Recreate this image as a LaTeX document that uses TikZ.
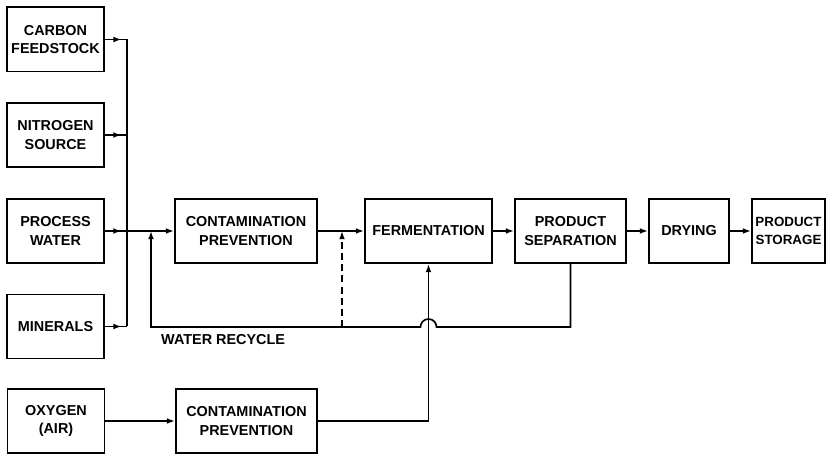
\documentclass[tikz,border=0pt]{standalone}
\usepackage{fontspec}
\setmainfont{Liberation Sans}
\usepackage{tikz}
\usetikzlibrary{arrows.meta}
\tikzset{>={Latex[length=7pt,width=5pt]}}
\usetikzlibrary{decorations.markings}

\tikzset{
  unit/.style={draw, line width=1.7pt, align=center, inner sep=0.5pt,
    minimum height=1.92cm, font=\bfseries\fontsize{12.3}{15.5}\selectfont},
  flow/.style={line width=1.4pt},
  feed/.style={flow, postaction={decorate},
    decoration={markings, mark=at position 0.75 with {\arrow{Latex[length=7pt,width=5pt]}}}},
  tag/.style={font=\bfseries\fontsize{12.3}{15.5}\selectfont, inner sep=0pt}
}

\begin{document}
\begin{tikzpicture}[x=0.03cm,y=-0.03cm]
		\useasboundingbox (0,0) rectangle (832,455);

		% Raw materials on the left
		\node [unit, minimum width=2.91cm] (carbon)   at (55.5,39.5)  {CARBON\\FEEDSTOCK};
		\node [unit, minimum width=2.91cm] (nitrogen) at (55.5,135)   {NITROGEN\\SOURCE};
		\node [unit, minimum width=2.91cm] (water)    at (55.5,231)   {PROCESS\\WATER};
		\node [unit, minimum width=2.91cm] (minerals) at (55.5,326.5) {MINERALS};
		\node [unit, minimum width=2.91cm] (oxygen)   at (56,421)     {OXYGEN\\(AIR)};

		% Main process line
		\node [unit, minimum width=4.26cm] (contam)   at (246,231)    {CONTAMINATION\\PREVENTION};
		\node [unit, minimum width=3.81cm] (ferment)  at (428.5,231)  {FERMENTATION};
		\node [unit, minimum width=3.33cm] (sep)      at (570.5,231)  {PRODUCT\\SEPARATION};
		\node [unit, minimum width=2.4cm]  (drying)   at (689,231)    {DRYING};
		\node [unit, minimum width=2.19cm, font=\bfseries\fontsize{11.4}{15.5}\selectfont]
		      (storage) at (788.5,231) {PRODUCT\\STORAGE};
		\node [unit, minimum width=4.23cm] (aircont)  at (246.5,421)  {CONTAMINATION\\PREVENTION};

		\node [tag, anchor=west] (recycle) at (161,340) {WATER RECYCLE};

		% Collecting bus for the feeds
		\coordinate (bus)    at (127,0);
		\coordinate (rejoin) at (151,231);
		\coordinate (bypass) at (342,231);
		\coordinate (hump)   at (428.5,327);

		\foreach \src in {carbon,nitrogen,water,minerals} {
		  \draw [feed] (\src.east) -- (\src.east -| bus);
		}
		\draw [flow] (carbon.east -| bus) -- (minerals.east -| bus);

		\draw [flow,->] (water.east -| bus) -- (contam.west);
		\draw [flow,->] (contam.east) -- (ferment.west);
		\draw [flow,->] (ferment.east) -- (sep.west);
		\draw [flow,->] (sep.east) -- (drying.west);
		\draw [flow,->] (drying.east) -- (storage.west);

		% Air supply
		\draw [flow,->] (oxygen.east) -- (aircont.west);
		\draw [flow,->] (aircont.east) -| (ferment.south);

		% Water recycle, jumping over the air line
		\draw [flow,->] (sep.south) |- ([xshift=0.24cm]hump) arc (0:-180:8) -| (rejoin);
		\draw [flow,->,dash pattern=on 6pt off 3.5pt] (bypass |- hump) -- (bypass);
	\end{tikzpicture}
\end{document}
